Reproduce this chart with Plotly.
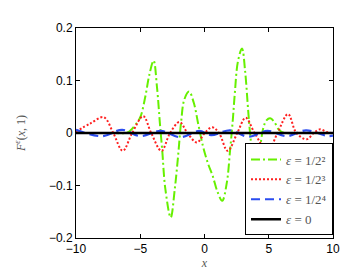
import plotly.graph_objects as go

# eps = 1/2^2 (green, dash-dot)
green_x = [-10, -7, -6, -5.4, -5.0, -4.6, -4.3, -3.96, -3.7, -3.46, -3.29, -3.05, -2.63, -2.31, -2.06,
           -1.82, -1.57, -1.2, -0.84, -0.47, -0.1, 0.27, 0.64, 1.01, 1.38, 1.74, 1.99, 2.19, 2.36, 2.6,
           2.92, 3.16, 3.41, 3.58, 3.76, 4.0, 4.25, 4.57, 4.82, 5.11, 5.43, 5.8, 6.2, 7, 8, 9, 10]
green_y = [0, 0, 0.001, 0.015, 0.03, 0.07, 0.11, 0.138, 0.088, 0.015, -0.033, -0.106, -0.161, -0.106, -0.045,
           0.021, 0.064, 0.079, 0.058, 0.015, -0.027, -0.058, -0.082, -0.112, -0.129, -0.094, -0.033, 0.021, 0.076, 0.136,
           0.161, 0.118, 0.039, -0.009, -0.045, -0.061, -0.039, 0.009, 0.024, 0.028, 0.021, 0.006, 0, 0, 0, 0, 0]

# eps = 1/2^3 (red, dotted)
red_x = [-10, -8.9, -7.84, -7.1, -6.36, -5.63, -4.77, -4.15, -3.35, -2.68, -1.94, -1.33, -0.59, 0.02, 0.6,
         1.13, 1.8, 2.55, 3.2, 3.9, 4.92, 5.68, 6.5, 7.15, 7.95, 8.5, 9.0, 9.5, 10]
red_y = [0.003, 0.018, 0.030, 0.0, -0.034, 0.0, 0.032, 0.0, -0.034, 0.0, 0.021, 0.0, -0.018, 0.0, 0.011,
         0.0, -0.034, 0.0, 0.029, 0.0, -0.034, 0.0, 0.036, 0.0, -0.012, 0.0, 0.007, 0.002, 0.0]

# eps = 1/2^4 (blue, dashed)
blue_x = [-10, -8.0, -6.4, -5.0, -3.4, -1.9, -0.4, 0.5, 2.0, 3.4, 4.9, 6.4, 7.9, 9.6, 10]
blue_y = [0.006, -0.006, 0.006, -0.006, 0.004, -0.008, 0.004, -0.004, 0.005, -0.007, 0.004, -0.006, 0.005, -0.006, -0.005]

# eps = 0 (black, solid)
black_x = [-10, 10]
black_y = [0, 0]

names = ["<i>ε</i> = 1/2²", "<i>ε</i> = 1/2³", "<i>ε</i> = 1/2⁴", "<i>ε</i> = 0"]

x_ticks = [-10, -5, 0, 5, 10]
y_ticks = [-0.2, -0.1, 0, 0.1, 0.2]

fig = go.Figure()
fig.add_trace(go.Scatter(x=green_x, y=green_y, mode="lines", name=names[0],
                         line=dict(color="#66f000", width=2, dash="9px,3px,2px,3px", shape="spline")))
fig.add_trace(go.Scatter(x=red_x, y=red_y, mode="lines", name=names[1],
                         line=dict(color="#ff2020", width=2, dash="2px,2px", shape="spline")))
fig.add_trace(go.Scatter(x=blue_x, y=blue_y, mode="lines", name=names[2],
                         line=dict(color="#2a4cf0", width=2.2, dash="9px,5px", shape="spline")))
fig.add_trace(go.Scatter(x=black_x, y=black_y, mode="lines", name=names[3],
                         line=dict(color="black", width=2.5)))

axis_common = dict(showline=True, linecolor="black", linewidth=1, mirror="allticks",
                   ticks="inside", ticklen=4, tickcolor="black", showgrid=False, zeroline=False,
                   tickfont=dict(family="Liberation Sans, Arial", size=12, color="black"))

fig.update_layout(
    width=360, height=271,
    margin=dict(l=54, r=35, t=20, b=31),
    plot_bgcolor="white", paper_bgcolor="white",
    xaxis=dict(range=[-10, 10], tickvals=x_ticks, **axis_common,
               title=dict(text="<i>x</i>", standoff=2,
                          font=dict(family="Liberation Serif", size=12, color="#555555"))),
    yaxis=dict(range=[-0.2, 0.2], tickvals=y_ticks, ticktext=["−0.2", "−0.1", "0", "0.1", "0.2"],
               **axis_common,
               title=dict(text="<i>F</i><sup><i>ε</i></sup>(<i>x</i>, 1)", standoff=20,
                          font=dict(family="Liberation Serif", size=12, color="#555555"))),
    legend=dict(x=1.0, y=0.012, xanchor="right", yanchor="bottom",
                bgcolor="white", bordercolor="black", borderwidth=1,
                font=dict(family="Liberation Serif", size=13, color="#555555"),
                tracegroupgap=0, itemwidth=30),
    showlegend=True,
)

fig.write_html("out.html")
